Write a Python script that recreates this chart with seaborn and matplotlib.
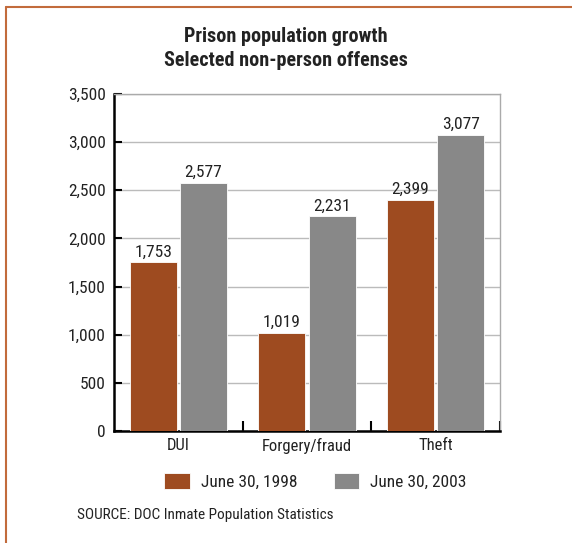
import matplotlib
matplotlib.use("Agg")
import matplotlib.pyplot as plt
from matplotlib.lines import Line2D
import seaborn as sns
import pandas as pd

categories = ["DUI", "Forgery/fraud", "Theft"]
series_names = ["June 30, 1998", "June 30, 2003"]
values_1998 = [1753, 1019, 2399]
values_2003 = [2577, 2231, 3077]
y_ticks = [0, 500, 1000, 1500, 2000, 2500, 3000, 3500]

title_text = "Prison population growth\nSelected non-person offenses"
source_text = "SOURCE: DOC Inmate Population Statistics"

colors = ["#9E4B20", "#888888"]
frame_color = "#C26B3C"
text_color = "#222222"

sns.set_theme(style="white")
plt.rcParams["font.family"] = ["Roboto Condensed", "DejaVu Sans"]

df = pd.DataFrame({
    "category": categories * 2,
    "series": [series_names[0]] * 3 + [series_names[1]] * 3,
    "value": values_1998 + values_2003,
})

fig = plt.figure(figsize=(5.72, 5.43), dpi=100)
ax = fig.add_axes([114 / 572, 1 - 431 / 543, 386 / 572, 337 / 543])

sns.barplot(data=df, x="category", y="value", hue="series", order=categories,
            hue_order=series_names, palette=colors, width=0.78, gap=0.06,
            edgecolor="white", linewidth=0.6, saturation=1, ax=ax,
            legend=False, zorder=3)

for cont in ax.containers:
    ax.bar_label(cont, labels=[f"{v:,.0f}" for v in cont.datavalues],
                 padding=2, fontsize=12.5, color=text_color)

ax.set_xlim(-0.5, 2.5)
ax.set_ylim(0, 3500)
ax.set_yticks(y_ticks)
ax.set_yticklabels([f"{v:,}" for v in y_ticks], fontsize=12.5, color=text_color)
ax.set_xticks(range(len(categories)))
ax.set_xticklabels(categories, fontsize=12, color=text_color)
ax.set_xlabel("")
ax.set_ylabel("")

ax.yaxis.grid(True, color="#BBBBBB", linewidth=1.0, zorder=0)
ax.set_axisbelow(True)

ax.tick_params(axis="y", direction="in", length=6, width=1.5, color="black",
               left=True, pad=6)
ax.tick_params(axis="x", which="major", length=0, pad=5)
ax.set_xticks([0.5, 1.5, 2.5], minor=True)
ax.tick_params(axis="x", which="minor", direction="in", length=7, width=1.5,
               color="black", bottom=True)

for side in ["left", "bottom"]:
    ax.spines[side].set_color("black")
    ax.spines[side].set_linewidth(1.8)
for side in ["top", "right"]:
    ax.spines[side].set_color("#AAAAAA")
    ax.spines[side].set_linewidth(1.0)

fig.text(0.5, 1 - 48.5 / 543, title_text, ha="center", va="center",
         fontsize=14.5, fontweight="bold", color=text_color, linespacing=1.3)

handles = [plt.Rectangle((0, 0), 1, 1, facecolor=c, edgecolor="white",
                         linewidth=0.6) for c in colors]
fig.legend(handles, series_names, loc="center", ncol=2,
           bbox_to_anchor=(315.5 / 572, 1 - 481 / 543), frameon=False,
           fontsize=12.5, handlelength=1.45, handleheight=1.05,
           handletextpad=0.65, columnspacing=2.1, labelcolor=text_color)

fig.text(77 / 572, 1 - 515 / 543, source_text, ha="left", va="center",
         fontsize=11, color=text_color)

fig.add_artist(Line2D([6 / 572, 1], [1 - 7 / 543, 1 - 7 / 543],
                      color=frame_color, linewidth=1.5,
                      transform=fig.transFigure))
fig.add_artist(Line2D([6 / 572, 6 / 572], [0, 1 - 7 / 543],
                      color=frame_color, linewidth=1.5,
                      transform=fig.transFigure))

fig.savefig("out.png", dpi=100)
